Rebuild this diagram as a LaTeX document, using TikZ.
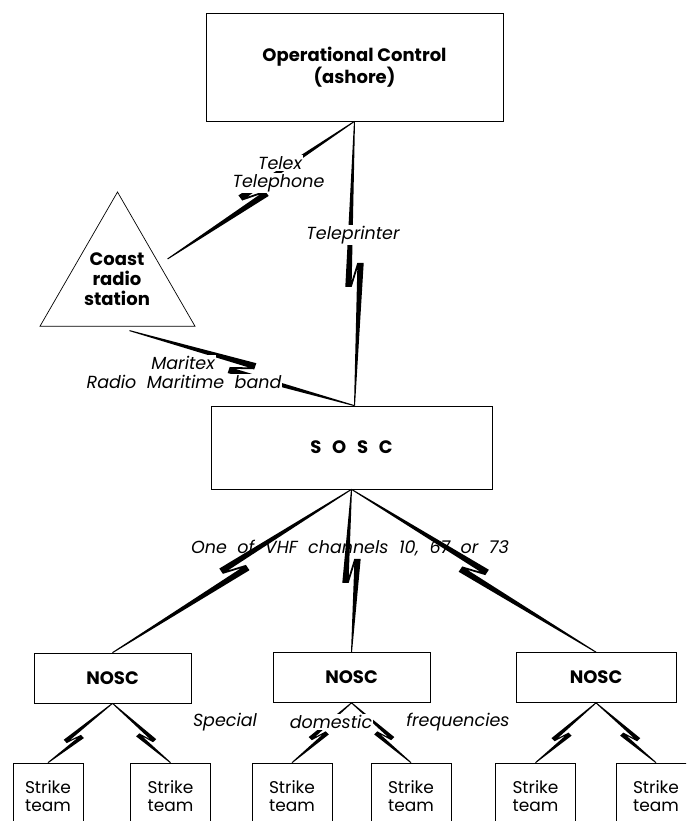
\documentclass[tikz,border=0pt]{standalone}
\usepackage{fontspec}
\setmainfont{Poppins}
\usetikzlibrary{calc,shapes.geometric}

\tikzset{
  box/.style={draw, line width=0.7pt, inner sep=0pt, align=center},
  bigtxt/.style={font=\bfseries\fontsize{18}{20}\selectfont},
  linklbl/.style={font={\itshape\fontsize{17.5}{20}\selectfont\spaceskip=0.6em}, inner sep=1pt},
  cover/.style={linklbl, fill=white},
  noscbox/.style={box, bigtxt, minimum width=157pt, minimum height=50pt},
  teambox/.style={box, minimum width=80pt, minimum height=66pt, font=\fontsize{17}{18}\selectfont},
}

% size of the lightning on a radio link
\def\boltw{3.2pt}\def\boltj{6pt}\def\boltd{12pt}\def\boltt{6pt}

% \radiolink[side]{fraction}{from}{to}
\newcommand{\radiolink}[4][1]{%
  \coordinate (bm) at ($(#3)!#2!(#4)$);
  \pgfmathsetlengthmacro{\rlfa}{\boltd-\boltt}
  \pgfmathsetlengthmacro{\rlfb}{-\boltd}
  \pgfmathsetlengthmacro{\rlfc}{\boltt-\boltd}
  \pgfmathsetlengthmacro{\rlfd}{\boltd}
  \pgfmathsetlengthmacro{\rlin}{(#1)*(\boltj-\boltw)}
  \pgfmathsetlengthmacro{\rlinn}{-(#1)*(\boltj-\boltw)}
  \pgfmathsetlengthmacro{\rlout}{(#1)*(\boltj+\boltw)}
  \pgfmathsetlengthmacro{\rloutn}{-(#1)*(\boltj+\boltw)}
  \pgfmathsetlengthmacro{\rlend}{(#1)*0.5pt}
  \pgfmathsetlengthmacro{\rlendn}{-(#1)*0.5pt}
  \fill ($(#3)!\rlend!90:(#4)$)
    -- ($(bm)!\rlfa!(#4)!\rlinn!90:(#4)$)
    -- ($(bm)!\rlfb!(#4)!\rlin!90:(#4)$)
    -- ($(bm)!\rlfb!(#4)!\rlout!90:(#4)$)
    -- ($(#4)!\rlend!-90:(#3)$)
    -- ($(#4)!\rlendn!-90:(#3)$)
    -- ($(bm)!\rlfc!(#4)!\rlin!90:(#4)$)
    -- ($(bm)!\rlfd!(#4)!\rlinn!90:(#4)$)
    -- ($(bm)!\rlfd!(#4)!\rloutn!90:(#4)$)
    -- ($(#3)!\rlendn!90:(#4)$)
    -- cycle;
}

\begin{document}
\begin{tikzpicture}[x=1pt,y=-1pt]
\useasboundingbox (0,0) rectangle (686,821);
\clip (0,0) rectangle (686,821);

% stations
\node[box, bigtxt, minimum width=297pt, minimum height=108pt] (opctl) at (354.5,67) {Operational Control\\(ashore)};
\node[box, regular polygon, regular polygon sides=3, minimum size=179pt] (coast) at (117.5,281.5) {};
\node[bigtxt, align=center] (coastlbl) at (117,279) {Coast\\radio\\station};
\node[box, bigtxt, minimum width=281pt, minimum height=83pt] (sosc) at (351.5,447.5) {S\hspace{0.6em}O\hspace{0.6em}S\hspace{0.6em}C};
\node[noscbox] (nosc1) at (112.5,678) {NOSC};
\node[noscbox] (nosc2) at (351.5,677.5) {NOSC};
\node[noscbox, minimum width=160pt] (nosc3) at (596,677.5) {NOSC};
\node[teambox, minimum width=70pt] (team1) at (48,796) {Strike\\team};
\node[teambox] (team2) at (170.5,796) {Strike\\team};
\node[teambox] (team3) at (292,796) {Strike\\team};
\node[teambox] (team4) at (411,796) {Strike\\team};
\node[teambox] (team5) at (535.5,796) {Strike\\team};
\node[teambox] (team6) at (656,796) {Strike\\team};

\coordinate (coastside) at ([xshift=11pt]coast.30);
\coordinate (coastbase) at ([xshift=12pt,yshift=-4pt]coast.south);
\coordinate (sosctop) at ([xshift=3pt]sosc.north);

% radio links
\radiolink{0.54}{opctl.south}{coastside}
\radiolink{0.54}{opctl.south}{sosctop}
\radiolink[-1]{0.5}{coastbase}{sosctop}
\radiolink{0.49}{sosc.south}{nosc1.north}
\radiolink{0.5}{sosc.south}{nosc2.north}
\radiolink[-1]{0.5}{sosc.south}{nosc3.north}

\def\boltw{2.2pt}\def\boltj{4pt}\def\boltd{8pt}\def\boltt{4pt}
\radiolink{0.6}{nosc1.south}{team1.north}
\radiolink[-1]{0.58}{nosc1.south}{team2.north}
\radiolink{0.55}{nosc2.south}{team3.north}
\radiolink[-1]{0.55}{nosc2.south}{team4.north}
\radiolink{0.57}{nosc3.south}{team5.north}
\radiolink[-1]{0.57}{nosc3.south}{team6.north}

% labels
\node[cover] (telexlbl) at (280,163) {Telex};
\node[cover] (phonelbl) at (278.5,183) {Telephone};
\node[cover] (printerlbl) at (353,235) {Teleprinter};
\node[cover] (maritexlbl) at (183,363) {Maritex};
\node[cover] (bandlbl) at (184,382) {Radio Maritime band};
\node[linklbl] (vhflbl) at (350,548) {One of VHF channels 10, 67 or 73};
\node[cover] (speciallbl) at (225,722) {Special};
\node[cover] (domesticlbl) at (331,722) {domestic};
\node[cover] (freqlbl) at (458,722) {frequencies};
\end{tikzpicture}
\end{document}
